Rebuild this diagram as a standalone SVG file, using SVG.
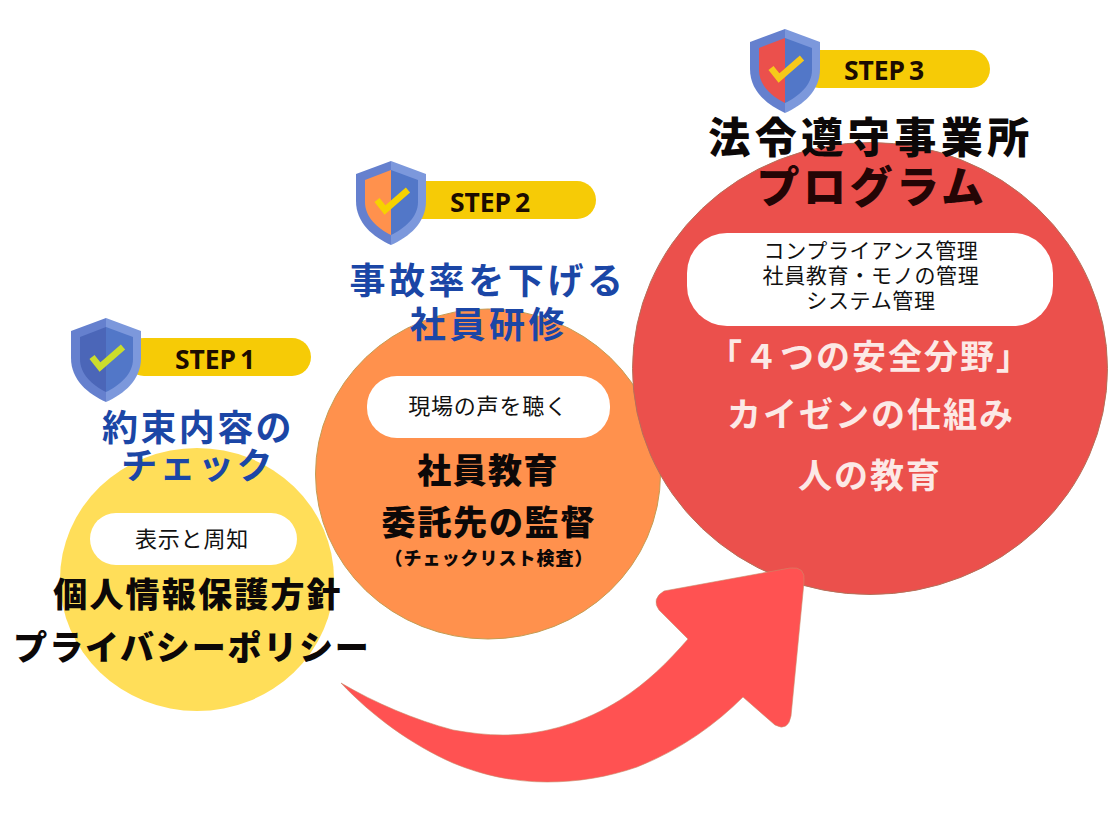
<svg xmlns="http://www.w3.org/2000/svg" width="1120" height="840" viewBox="0 0 1120 840">
<style>
text{font-family:"Noto Sans CJK JP","Noto Sans",sans-serif;text-anchor:middle}
.blue{fill:#1B46A6;font-weight:700;font-size:36px;letter-spacing:2.4px}
.blue2{fill:#1B46A6;font-weight:700;font-size:36px;letter-spacing:3.6px}
.blk{fill:#0c0808;font-weight:900}
.reg{fill:#111;font-weight:400;font-size:22px;letter-spacing:.8px}
.reg3{fill:#111;font-weight:400;font-size:21px;letter-spacing:.7px}
.step{font-family:"Noto Sans",sans-serif;font-weight:700;font-size:26.500px;fill:#1c0c00;word-spacing:-3px}
.pill{fill:#F6CB06}
.wh{fill:#fff}
.pk{fill:#FCE9E6;font-weight:700;font-size:34px;letter-spacing:2px}
.sl{fill:#6580CE}.sr{fill:#7C98DC}.ir{fill:#5277C8}
.tick{fill:none;stroke-width:6.5}
</style>
<defs>
<path id="outerL" d="M0,0L-35,13V40C-35,62-18,76 0,84Z"/>
<path id="outerR" d="M0,0L35,13V40C35,62 18,76 0,84Z"/>
<path id="innerL" d="M0,9L-26,19V41C-26,56-14,67 0,74Z"/>
<path id="innerR" d="M0,9L27,19V41C27,56 14,67 0,74Z"/>
<path id="tickp" d="M-14,39L-6,49L17,29"/>
</defs>
<g id="step1">
<ellipse cx="197" cy="579.500" rx="137" ry="131.500" fill="#FFDE59"/>
<rect class="pill" x="125" y="338" width="186" height="38" rx="19"/>
<g transform="translate(106,318)"><use href="#outerL" class="sl"/><use href="#outerR" class="sr"/><use href="#innerL" fill="#4B66B8"/><use href="#innerR" class="ir"/><use href="#tickp" class="tick" stroke="#CBDD2C"/></g>
<text class="step" x="215" y="369">STEP 1</text>
<text class="blue" x="198" y="441">約束内容の</text>
<text class="blue" x="198" y="479">チェック</text>
<rect class="wh" x="90" y="513" width="207" height="52" rx="26"/>
<text class="reg" x="192" y="547">表示と周知</text>
<text class="blk" x="198" y="607" font-size="34" letter-spacing="2.2">個人情報保護方針</text>
<text class="blk" x="192" y="660" font-size="34" letter-spacing="1.8">プライバシーポリシー</text>
</g>
<g id="step2">
<ellipse cx="488" cy="474" rx="172.500" ry="165" fill="#FF914D" stroke="#C49C52" stroke-width="1"/>
<rect class="pill" x="400" y="181" width="196" height="38" rx="19"/>
<g transform="translate(391,161)"><use href="#outerL" class="sl"/><use href="#outerR" class="sr"/><use href="#innerL" fill="#FF914D"/><use href="#innerR" class="ir"/><use href="#tickp" class="tick" stroke="#F6D200"/></g>
<text class="step" x="490" y="212">STEP 2</text>
<text class="blue2" x="488" y="294">事故率を下げる</text>
<text class="blue2" x="489" y="338">社員研修</text>
<rect class="wh" x="367" y="376" width="243" height="62" rx="30"/>
<text class="reg" x="488" y="414">現場の声を聴く</text>
<text class="blk" x="488" y="483" font-size="34" letter-spacing="1.4">社員教育</text>
<text class="blk" x="489" y="535" font-size="34" letter-spacing="1.8">委託先の監督</text>
<text class="blk" x="489" y="565" font-size="18" letter-spacing="1">（チェックリスト検査）</text>
</g>
<g id="step3">
<ellipse cx="870" cy="368.500" rx="237.500" ry="226" fill="#EB504C" stroke="#B5705A" stroke-width="1"/>
<rect class="pill" x="800" y="50" width="190" height="38" rx="19"/>
<g transform="translate(785,29)"><use href="#outerL" class="sl"/><use href="#outerR" class="sr"/><use href="#innerL" fill="#EB504C"/><use href="#innerR" class="ir"/><use href="#tickp" class="tick" stroke="#F6C91A"/></g>
<text class="step" x="884" y="80">STEP 3</text>
<text class="blk" x="871" y="153" font-size="42" letter-spacing="4.500">法令遵守事業所</text>
<text class="blk" x="872" y="203" font-size="43" letter-spacing="3.500" style="fill:#240505">プログラム</text>
<rect class="wh" x="687" y="233" width="366" height="93" rx="40"/>
<text class="reg3" x="871" y="258">コンプライアンス管理</text>
<text class="reg3" x="871" y="283">社員教育・モノの管理</text>
<text class="reg3" x="871" y="308">システム管理</text>
<text class="pk" x="870" y="369">「４つの安全分野」</text>
<text class="pk" x="871" y="427">カイゼンの仕組み</text>
<text class="pk" x="870" y="488">人の教育</text>
</g>
<g id="connectors">
<path fill="#FF5252" stroke="#C98A6A" stroke-width=".6" d="M341,683C375,703 415,720 453,730C470,733 486,735 503,735C545,735 585,722 620,700C647,683 668,662 688,639L659,610Q651,599 664,591L790,568Q806,566 804,582L791,716Q788,732 775,725L743,697C715,725 680,750 637,767C608,777 578,782 547,782C513,782 482,775 453,763C412,745 372,716 341,683Z"/>
</g>
</svg>
